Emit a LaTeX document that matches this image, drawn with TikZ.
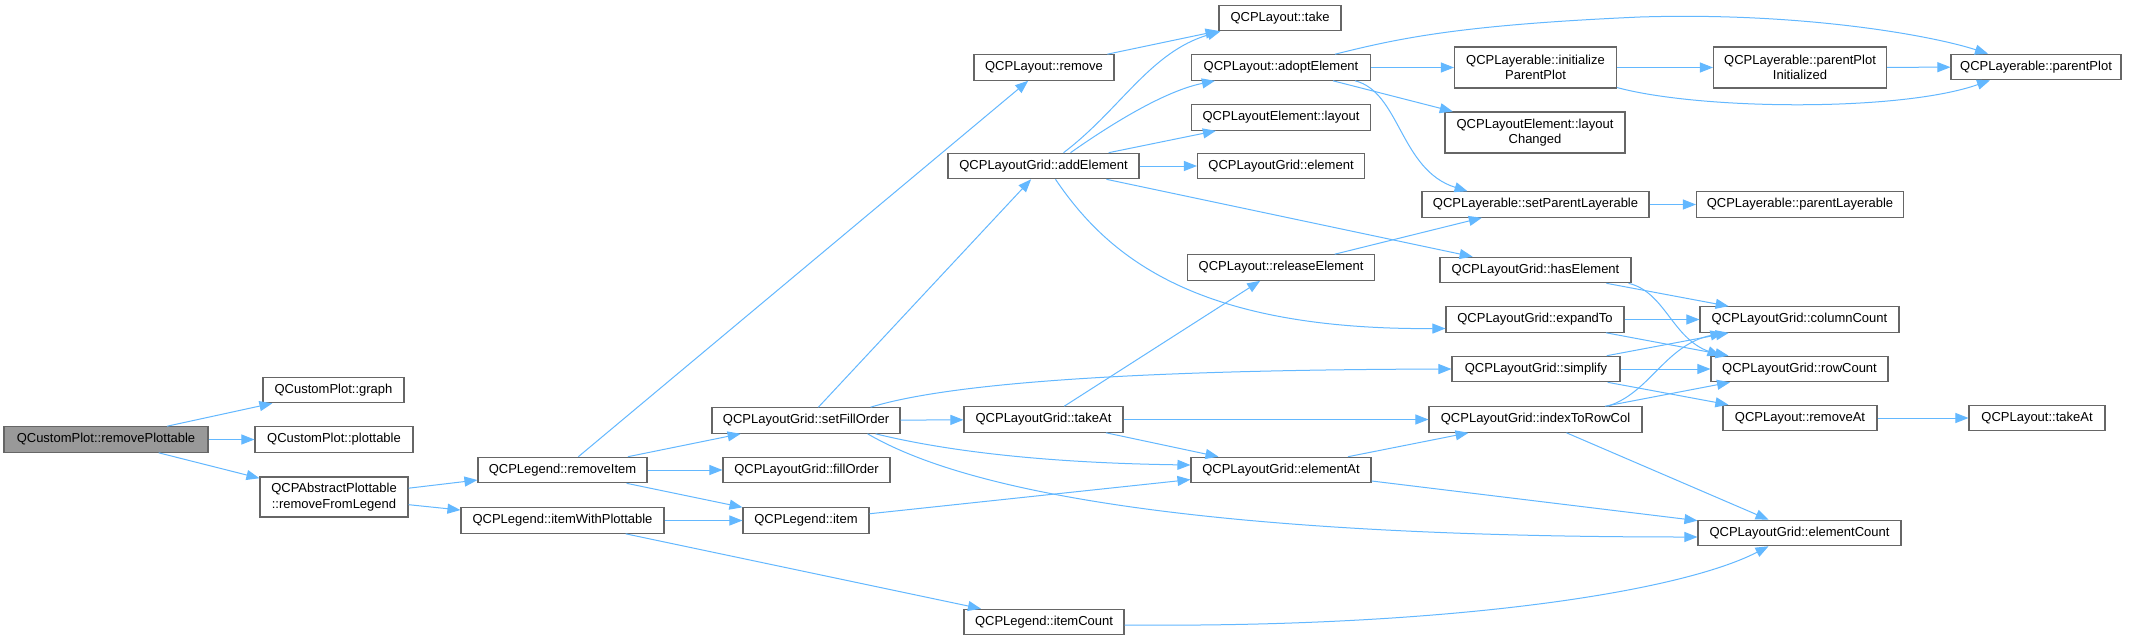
\documentclass[tikz,border=0pt]{standalone}
\usepackage{fontspec}
\setmainfont{Liberation Sans}
\usetikzlibrary{arrows.meta}
\definecolor{edgeblue}{HTML}{63B8FF}
\definecolor{boxgray}{HTML}{666666}
\definecolor{rootfill}{HTML}{999999}
\begin{document}
\begin{tikzpicture}[x=1pt,y=-1pt,
  fn/.style={draw=boxgray, line width=1.1pt, fill=white, inner sep=0pt, align=center,
    font=\fontsize{13}{15.5}\selectfont, minimum height=25.5pt},
  root/.style={fn, fill=rootfill},
  edge/.style={draw=edgeblue, line width=1pt, -{Triangle[length=13pt,width=10pt]}}]
\fill[white] (0,0) rectangle (2130,640);
\useasboundingbox (0,0) rectangle (2130,640);

% column 1
\node[root, minimum width=204pt] (rp) at (106,439.5) {QCustomPlot::removePlottable};
% column 2
\node[fn, minimum width=141pt] (graph) at (333.5,390) {QCustomPlot::graph};
\node[fn, minimum width=158pt] (plottable) at (334,439.5) {QCustomPlot::plottable};
\node[fn, minimum width=148pt, minimum height=40pt] (rfl) at (334,497) {QCPAbstractPlottable\\::removeFromLegend};
% column 3
\node[fn, minimum width=169pt] (ri) at (562.5,470) {QCPLegend::removeItem};
\node[fn, minimum width=203pt] (iwp) at (562.5,520.5) {QCPLegend::itemWithPlottable};
% column 4
\node[fn, minimum width=188pt] (sfo) at (806,420.5) {QCPLayoutGrid::setFillOrder};
\node[fn, minimum width=167pt] (fo) at (806.5,470) {QCPLayoutGrid::fillOrder};
\node[fn, minimum width=126pt] (item) at (806,520.5) {QCPLegend::item};
% column 5
\node[fn, minimum width=140pt] (remove) at (1044,67.5) {QCPLayout::remove};
\node[fn, minimum width=191pt] (ae) at (1043.5,166) {QCPLayoutGrid::addElement};
\node[fn, minimum width=159pt] (tag) at (1043.5,419.5) {QCPLayoutGrid::takeAt};
\node[fn, minimum width=160pt] (ic) at (1044,622) {QCPLegend::itemCount};
% column 6
\node[fn, minimum width=122pt] (take) at (1280,18) {QCPLayout::take};
\node[fn, minimum width=179pt] (adopt) at (1281,67.5) {QCPLayout::adoptElement};
\node[fn, minimum width=179pt] (lay) at (1281,117.5) {QCPLayoutElement::layout};
\node[fn, minimum width=167pt] (el) at (1281,166) {QCPLayoutGrid::element};
\node[fn, minimum width=187pt] (rel) at (1281,267.5) {QCPLayout::releaseElement};
\node[fn, minimum width=180pt] (eat) at (1281,470) {QCPLayoutGrid::elementAt};
% column 7
\node[fn, minimum width=162pt, minimum height=41pt] (ipp) at (1535.5,67.5) {QCPLayerable::initialize\\ParentPlot};
\node[fn, minimum width=180pt, minimum height=41pt] (lc) at (1535,132.5) {QCPLayoutElement::layout\\Changed};
\node[fn, minimum width=227pt] (spl) at (1535.5,204.5) {QCPLayerable::setParentLayerable};
\node[fn, minimum width=191pt] (he) at (1535.5,270) {QCPLayoutGrid::hasElement};
\node[fn, minimum width=178pt] (et) at (1535,319.5) {QCPLayoutGrid::expandTo};
\node[fn, minimum width=168pt] (simp) at (1536,369) {QCPLayoutGrid::simplify};
\node[fn, minimum width=213pt] (irc) at (1535.5,419.5) {QCPLayoutGrid::indexToRowCol};
% column 8
\node[fn, minimum width=173pt, minimum height=41pt] (ppi) at (1800,67.5) {QCPLayerable::parentPlot\\Initialized};
\node[fn, minimum width=207pt] (pl) at (1800,204.5) {QCPLayerable::parentLayerable};
\node[fn, minimum width=199pt] (cc) at (1799.5,319.5) {QCPLayoutGrid::columnCount};
\node[fn, minimum width=177pt] (rc) at (1799.5,369) {QCPLayoutGrid::rowCount};
\node[fn, minimum width=154pt] (rat) at (1800,418) {QCPLayout::removeAt};
\node[fn, minimum width=203pt] (ec) at (1799.5,533) {QCPLayoutGrid::elementCount};
% column 9
\node[fn, minimum width=170pt] (pp) at (2036,67) {QCPLayerable::parentPlot};
\node[fn, minimum width=136pt] (tal) at (2037,418) {QCPLayout::takeAt};

% edges
\draw[edge] (rp) -- (graph);
\draw[edge] (rp) -- (plottable);
\draw[edge] (rp) -- (rfl);
\draw[edge] (rfl) -- (ri);
\draw[edge] (rfl) -- (iwp);
\draw[edge] (ri) -- (remove);
\draw[edge] (ri) -- (sfo);
\draw[edge] (ri) -- (fo);
\draw[edge] (ri) -- (item);
\draw[edge] (iwp) -- (item);
\draw[edge] (iwp) -- (ic);
\draw[edge] (item) -- (eat);
\draw[edge] (sfo) -- (ae);
\draw[edge] (sfo) -- (tag);
\draw[edge] ([xshift=-30pt]sfo.north east) .. controls (940,386) and (1100,370) .. (simp.west);
\draw[edge] ([xshift=-25pt]sfo.south east) .. controls (950,452) and (1050,463) .. ([yshift=5pt]eat.west);
\draw[edge] ([xshift=-33pt]sfo.south east) .. controls (930,470) and (1100,537) .. ([yshift=-4pt]ec.west);
\draw[edge] (tag) -- (rel);
\draw[edge] (tag) -- (irc);
\draw[edge] (tag) -- (eat);
\draw[edge] (remove) -- (take);
\draw[edge] ([xshift=20pt]ae.north) .. controls (1120,110) and (1150,52) .. ([xshift=2pt]take.south west);
\draw[edge] ([xshift=27pt]ae.north) .. controls (1100,132) and (1160,92) .. ([xshift=24pt]adopt.south west);
\draw[edge] (ae) -- (lay);
\draw[edge] (ae) -- (el);
\draw[edge] (ae) -- (he);
\draw[edge] ([xshift=12pt]ae.south) .. controls (1110,260) and (1200,330) .. ([yshift=-9pt]et.west);
\draw[edge] (adopt) -- (ipp);
\draw[edge] (adopt) -- (lc);
\draw[edge] ([xshift=-16pt]adopt.south east) .. controls (1400,92) and (1400,170) .. ([xshift=-68pt]spl.north);
\draw[edge] ([xshift=54pt]adopt.north) .. controls (1400,38) and (1460,25) .. (1640,17)
  .. controls (1800,12) and (1930,35) .. ([xshift=-48pt]pp.north);
\draw[edge] (ipp) -- (ppi);
\draw[edge] ([yshift=1pt]ipp.south east) .. controls (1700,110) and (1900,112) .. ([xshift=-46pt]pp.south);
\draw[edge] (ppi) -- (pp);
\draw[edge] (rel) -- (spl);
\draw[edge] (spl) -- (pl);
\draw[edge] (he) -- (cc);
\draw[edge] ([xshift=-3pt]he.south east) .. controls (1665,292) and (1672,338) .. ([xshift=10pt]rc.north west);
\draw[edge] (et) -- (cc);
\draw[edge] (et) -- (rc);
\draw[edge] (simp) -- (cc);
\draw[edge] (simp) -- (rc);
\draw[edge] (simp) -- (rat);
\draw[edge] (rat) -- (tal);
\draw[edge] ([xshift=72pt]irc.north) .. controls (1650,393) and (1665,345) .. ([xshift=24pt]cc.south west);
\draw[edge] (irc) -- (rc);
\draw[edge] (irc) -- (ec);
\draw[edge] (eat) -- (irc);
\draw[edge] (eat) -- (ec);
\draw[edge] ([yshift=-3pt]ic.east) .. controls (1450,628) and (1680,592) .. ([xshift=-31pt]ec.south);
\end{tikzpicture}
\end{document}
